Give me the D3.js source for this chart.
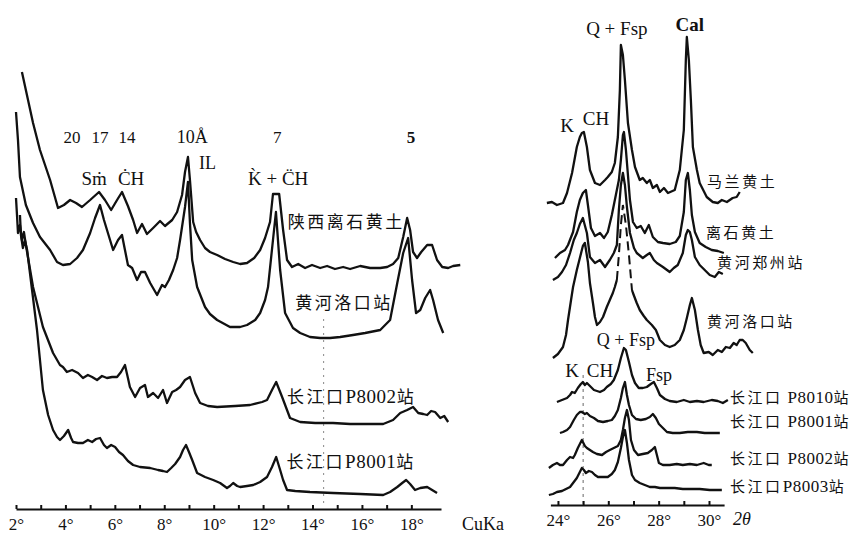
<!DOCTYPE html>
<html>
<head>
<meta charset="utf-8">
<script src="https://cdn.jsdelivr.net/npm/d3@7"></script>
<style>
	body { margin: 0; background: #fff; }
	svg text { fill: #111; }
	.serif { font-family: "Liberation Serif", "DejaVu Serif", serif; }
	.cjk { font-family: "Noto Sans CJK SC", sans-serif; }
</style>
</head>
<body>
<svg id="chart"></svg>
<script>
const DIMENSION = {
	width: 863,
	height: 533
};

// left panel: 2θ (CuKα) vs stacked intensity (arbitrary units, 0 = axis)
const shaanxiLishi = [[2.24,437],[2.69,386],[2.97,359],[3.38,329],[3.70,301],[3.94,304],[4.19,309],[4.43,306],[4.67,302],[5.0,309],[5.36,317],[5.60,309],[5.85,299],[6.09,309],[6.29,317],[6.53,303],[6.74,289],[6.90,276],[7.10,285],[7.30,275],[7.55,281],[7.83,288],[8.03,283],[8.32,289],[8.52,297],[8.72,314],[8.84,337],[8.96,352],[9.04,329],[9.17,287],[9.29,277],[9.45,269],[9.65,261],[9.85,257],[10.14,254],[10.46,250],[10.79,247],[11.07,245],[11.35,246],[11.64,251],[11.88,259],[12.08,271],[12.28,287],[12.40,315],[12.65,315],[12.81,279],[12.97,249],[13.17,242],[13.42,245],[13.70,241],[13.98,244],[14.31,241],[14.59,243],[14.91,240],[15.24,242],[15.52,240],[15.93,243],[16.33,241],[16.74,241],[17.02,242],[17.26,245],[17.47,251],[17.67,272],[17.83,291],[17.95,279],[18.07,257],[18.23,251],[18.40,257],[18.64,264],[18.84,264],[19.04,249],[19.25,242],[19.49,241],[19.69,243],[19.98,244]];

const huangheLuokouL = [[2.0,397],[2.08,369],[2.16,332],[2.40,304],[2.69,286],[2.97,272],[3.38,259],[3.66,247],[3.90,244],[4.19,245],[4.47,251],[4.71,259],[5.0,276],[5.20,291],[5.40,304],[5.56,289],[5.72,276],[5.93,259],[6.13,269],[6.29,274],[6.41,259],[6.53,244],[6.70,241],[6.90,229],[7.06,237],[7.22,237],[7.43,226],[7.71,214],[7.91,224],[8.03,222],[8.19,229],[8.36,239],[8.52,251],[8.64,269],[8.84,302],[8.96,327],[9.04,286],[9.13,249],[9.33,222],[9.65,202],[9.85,195],[10.14,189],[10.66,182],[11.07,182],[11.35,184],[11.68,189],[11.88,196],[12.08,209],[12.20,222],[12.40,269],[12.52,297],[12.69,239],[12.89,196],[13.21,181],[13.50,176],[13.90,172],[14.31,171],[14.71,171],[15.12,172],[15.64,174],[16.13,176],[16.74,179],[17.14,189],[17.43,226],[17.67,256],[17.87,271],[18.03,229],[18.19,196],[18.36,199],[18.56,211],[18.76,219],[18.88,209],[19.08,189],[19.29,176]];

const changjiangP8002L = [[2.0,311],[2.04,294],[2.08,276],[2.16,284],[2.24,269],[2.32,277],[2.40,264],[2.69,222],[3.09,182],[3.50,156],[3.78,144],[3.90,142],[4.06,137],[4.27,139],[4.51,136],[4.71,131],[4.91,134],[5.08,132],[5.28,129],[5.48,133],[5.68,131],[5.89,132],[6.09,132],[6.25,137],[6.41,144],[6.53,131],[6.61,122],[6.82,112],[7.02,121],[7.22,124],[7.34,112],[7.55,116],[7.75,111],[7.95,119],[8.11,106],[8.32,117],[8.48,119],[8.64,122],[8.84,129],[9.04,132],[9.25,116],[9.45,106],[9.77,103],[10.14,102],[10.87,103],[11.47,104],[11.96,107],[12.16,109],[12.36,119],[12.53,127],[12.77,112],[13.09,91],[13.50,87],[14.11,86],[14.83,86],[15.52,85],[16.33,85],[16.86,85],[17.26,89],[17.55,96],[17.83,99],[18.07,102],[18.28,96],[18.48,95],[18.64,94],[18.80,98],[18.96,97],[19.17,91],[19.33,93],[19.49,87]];

const changjiangP8001L = [[2.16,294],[2.20,274],[2.28,261],[2.36,269],[2.45,259],[2.65,219],[2.85,179],[3.09,119],[3.30,94],[3.50,79],[3.66,72],[3.78,69],[3.94,73],[4.11,79],[4.23,71],[4.31,67],[4.51,66],[4.71,66],[4.91,69],[5.08,67],[5.24,70],[5.40,71],[5.56,64],[5.68,61],[5.85,64],[6.01,62],[6.17,57],[6.33,54],[6.53,48],[6.74,44],[7.02,42],[7.43,41],[7.75,39],[7.95,38],[8.11,37],[8.28,41],[8.44,45],[8.64,52],[8.76,59],[8.88,64],[9.00,57],[9.13,49],[9.33,36],[9.65,32],[9.98,29],[10.26,26],[10.54,21],[10.66,23],[10.79,26],[10.95,23],[11.07,22],[11.35,23],[11.60,24],[11.88,27],[12.16,32],[12.36,42],[12.53,52],[12.69,39],[12.81,29],[12.97,19],[13.30,18],[13.90,17],[14.83,16],[15.93,15],[16.86,14],[17.14,17],[17.43,22],[17.63,26],[17.79,29],[17.95,25],[18.15,19],[18.36,21],[18.64,22],[18.84,19],[19.04,16]];

// right panel: 2θ 24°–30°
const malanR = [[23.56,302],[23.76,303],[23.96,300],[24.20,302],[24.36,312],[24.56,332],[24.75,358],[24.87,368],[24.95,372],[25.03,373],[25.15,358],[25.27,335],[25.47,322],[25.67,320],[25.87,325],[25.98,328],[26.14,333],[26.26,342],[26.38,368],[26.46,415],[26.50,460],[26.58,450],[26.66,425],[26.78,382],[26.94,355],[27.06,338],[27.25,325],[27.37,327],[27.53,322],[27.65,325],[27.77,317],[27.93,320],[28.05,313],[28.21,317],[28.37,312],[28.64,315],[28.84,335],[29.00,375],[29.08,445],[29.12,468],[29.20,445],[29.28,405],[29.36,358],[29.52,335],[29.63,322],[29.91,308],[30.15,303],[30.35,302],[30.51,305],[30.71,303],[30.94,307],[31.10,308],[31.22,313]];

const lishiR = [[23.88,247],[24.08,252],[24.28,255],[24.40,260],[24.60,273],[24.75,293],[24.87,305],[24.99,312],[25.11,315],[25.19,300],[25.31,277],[25.47,269],[25.67,272],[25.83,267],[25.98,273],[26.14,290],[26.30,310],[26.42,325],[26.50,345],[26.58,370],[26.62,373],[26.70,355],[26.78,330],[26.86,305],[26.98,283],[27.13,277],[27.29,279],[27.45,272],[27.61,280],[27.77,268],[27.97,263],[28.17,262],[28.44,261],[28.68,263],[28.84,269],[29.00,293],[29.08,325],[29.16,332],[29.24,315],[29.32,290],[29.44,273],[29.63,262],[29.87,258],[30.11,255],[30.35,254],[30.59,252]];

const zhengzhouR = [[23.80,225],[24.0,228],[24.16,233],[24.32,240],[24.48,252],[24.63,265],[24.75,272],[24.87,281],[24.99,287],[25.15,272],[25.27,248],[25.47,242],[25.67,245],[25.87,238],[26.06,245],[26.22,252],[26.34,260],[26.42,295],[26.50,320],[26.58,332],[26.66,320],[26.74,298],[26.86,272],[27.02,257],[27.13,252],[27.37,247],[27.53,250],[27.65,252],[27.81,245],[27.93,242],[28.17,238],[28.44,233],[28.60,237],[28.76,240],[28.96,252],[29.08,270],[29.16,275],[29.24,273],[29.32,265],[29.44,248],[29.63,240],[29.83,235],[30.03,230],[30.23,228],[30.39,233],[30.55,231]];

const luokouR = [[23.80,147],[24.0,151],[24.20,158],[24.32,170],[24.40,185],[24.52,205],[24.60,218],[24.75,235],[24.87,247],[24.99,259],[25.07,262],[25.19,243],[25.27,222],[25.39,202],[25.47,188],[25.55,180],[25.67,183],[25.79,188],[25.94,198],[26.06,205],[26.18,212],[26.26,218],[26.34,225],[26.42,250],[26.50,280],[26.58,300],[26.70,280],[26.82,250],[26.94,215],[26.98,212],[27.13,202],[27.25,195],[27.41,189],[27.53,185],[27.73,180],[27.89,175],[28.05,165],[28.25,160],[28.44,158],[28.64,160],[28.84,165],[29.00,175],[29.12,187],[29.24,200],[29.32,207],[29.44,195],[29.56,175],[29.67,160],[29.79,152],[29.99,153],[30.15,150],[30.35,155],[30.51,153],[30.67,158],[30.83,157],[30.98,162],[31.10,160],[31.22,165],[31.34,165],[31.46,162],[31.62,155],[31.74,152]];
// part of the 黄河洛口站 Q+Fsp peak hidden behind the other traces (drawn dashed)
const luokouHidden = [26.34, 26.96];

const cjP8010R = [[23.96,103],[24.16,105],[24.36,107],[24.48,110],[24.56,113],[24.67,112],[24.79,117],[24.91,121],[24.99,123],[25.07,120],[25.15,122],[25.27,119],[25.43,115],[25.67,113],[25.83,115],[25.94,118],[26.10,121],[26.22,125],[26.38,135],[26.50,147],[26.62,157],[26.70,155],[26.82,143],[26.94,130],[27.06,122],[27.21,117],[27.37,117],[27.53,118],[27.69,121],[27.81,123],[27.93,117],[28.05,110],[28.25,106],[28.44,104],[28.72,103],[29.0,105],[29.24,103],[29.52,104],[29.79,103],[30.11,105],[30.35,104],[30.55,102],[30.75,105]];

const cjP8001R = [[24.08,72],[24.20,73],[24.36,75],[24.48,78],[24.63,85],[24.75,90],[24.87,93],[24.95,93],[25.07,91],[25.15,92],[25.27,89],[25.43,87],[25.59,84],[25.79,83],[25.98,84],[26.14,85],[26.26,89],[26.38,95],[26.50,107],[26.58,117],[26.66,123],[26.74,110],[26.82,100],[26.94,90],[27.10,86],[27.29,85],[27.49,86],[27.65,88],[27.77,91],[27.89,87],[28.01,81],[28.17,77],[28.33,73],[28.56,72],[28.84,72],[29.16,73],[29.52,73],[29.83,72],[30.15,72],[30.43,72]];

const cjP8002R = [[23.64,37],[23.80,40],[23.96,42],[24.08,40],[24.20,40],[24.36,45],[24.48,48],[24.60,47],[24.67,50],[24.79,57],[24.95,65],[25.07,59],[25.15,57],[25.27,55],[25.39,53],[25.55,51],[25.75,50],[25.91,53],[26.06,55],[26.22,57],[26.38,59],[26.50,65],[26.58,75],[26.66,87],[26.74,95],[26.82,85],[26.90,65],[27.02,55],[27.18,50],[27.37,51],[27.57,52],[27.73,55],[27.85,58],[27.93,50],[28.01,42],[28.17,40],[28.44,40],[28.72,41],[28.96,40],[29.24,41],[29.52,40],[29.79,42],[29.99,40],[30.11,40]];

const cjP8003R = [[23.64,10],[23.80,11],[23.96,13],[24.16,14],[24.32,16],[24.48,18],[24.63,23],[24.75,27],[24.87,33],[24.95,37],[25.03,35],[25.11,32],[25.23,34],[25.35,33],[25.47,30],[25.59,28],[25.79,28],[25.98,28],[26.14,31],[26.26,35],[26.38,43],[26.50,57],[26.58,68],[26.66,75],[26.74,62],[26.82,45],[26.94,30],[27.06,25],[27.25,22],[27.45,20],[27.65,18],[27.85,18],[28.05,17],[28.33,17],[28.64,17],[28.96,16],[29.32,16],[29.63,16],[30.03,15],[30.51,15]];

const leftSeries = [shaanxiLishi, huangheLuokouL, changjiangP8002L, changjiangP8001L];
const rightSeries = [malanR, lishiR, zhengzhouR, cjP8010R, cjP8001R, cjP8002R, cjP8003R];

const leftTicks = d3.range(2, 19, 1);
const rightTicks = d3.range(24, 31, 1);

// sample names: [text, 2θ, intensity level of the label]
const leftNames = [['陕西离石黄土', 13.0, 287], ['黄河洛口站', 13.3, 206], ['长江口P8002站', 12.97, 112], ['长江口P8001站', 12.95, 47]];
const rightNames = [['马兰黄土', 29.92, 323], ['离石黄土', 29.88, 272], ['黄河郑州站', 30.32, 242], ['黄河洛口站', 29.92, 183],
	['长江口 P8010站', 30.83, 107], ['长江口 P8001站', 30.83, 83], ['长江口 P8002站', 30.83, 46], ['长江口P8003站', 30.83, 18]];

// peak labels: [text, 2θ, level, bold, size]
const leftPeaks = [['20', 4.27, 372], ['17', 5.40, 372], ['14', 6.49, 372], ['10Å', 9.13, 372, false, 18], ['IL', 9.75, 346, false, 18],
	['7', 12.57, 372], ['5', 17.99, 372, true], ['S\u1E41', 5.16, 331, false, 19], ['\u010AH', 6.66, 331, false, 19], ['K\u0300 + C\u0308H', 12.61, 331, false, 19]];
const rightPeaks = [['Q + Fsp', 26.34, 477, false, 19], ['Cal', 29.24, 481, true, 19], ['K', 24.36, 380, false, 19], ['CH', 25.51, 387, false, 19],
	['Q + Fsp', 26.70, 165, false, 18], ['K', 24.56, 135, false, 19], ['CH', 25.67, 135, false, 19], ['Fsp', 28.01, 130, false, 18]];

const svg = d3.select('#chart')
	.attr('width', DIMENSION.width)
	.attr('height', DIMENSION.height);

const xL = d3.scaleLinear().domain([2, 19.2]).range([16, 441]);
const yL = d3.scaleLinear().domain([0, 500]).range([509, 9]);
const xR = d3.scaleLinear().domain([23.7, 30.6]).range([550.4, 724.1]);
const yR = d3.scaleLinear().domain([0, 500]).range([505, 5]);

// faint dotted guide lines seen in the scan
svg.append('line')
	.attr('x1', xL(14.45)).attr('x2', xL(14.45))
	.attr('y1', yL(190)).attr('y2', yL(2))
	.attr('stroke', '#888').attr('stroke-width', 1).attr('stroke-dasharray', '2,5');
svg.append('line')
	.attr('x1', xR(25.0)).attr('x2', xR(25.0))
	.attr('y1', yR(130)).attr('y2', yR(0))
	.attr('stroke', '#666').attr('stroke-width', 1).attr('stroke-dasharray', '3,4');

const drawTraces = (series, x, y) => {
	const line = d3.line()
		.x(d => x(d[0]))
		.y(d => y(d[1]));
	svg.append('g')
		.selectAll('path')
		.data(series)
		.enter()
		.append('path')
		.attr('fill', 'none')
		.attr('stroke', '#111')
		.attr('stroke-width', 2.3)
		.attr('stroke-linejoin', 'round')
		.attr('d', line);
	return line;
};

drawTraces(leftSeries, xL, yL);
const lineR = drawTraces(rightSeries, xR, yR);

// 黄河洛口站 (right): solid outside the hidden range, dashed inside
const solidA = luokouR.filter(d => d[0] <= luokouHidden[0]);
const hidden = luokouR.filter(d => d[0] >= luokouHidden[0] && d[0] <= luokouHidden[1]);
const solidB = luokouR.filter(d => d[0] >= luokouHidden[1] - 0.05);
for (let part of [solidA, solidB]) {
	svg.append('path')
		.datum(part)
		.attr('fill', 'none')
		.attr('stroke', '#111')
		.attr('stroke-width', 2.3)
		.attr('stroke-linejoin', 'round')
		.attr('d', lineR);
}
svg.append('path')
	.datum(hidden)
	.attr('fill', 'none')
	.attr('stroke', '#111')
	.attr('stroke-width', 2)
	.attr('stroke-dasharray', '9,5')
	.attr('d', lineR);

// axes: small ticks pointing up, labels at even degrees
const makeAxis = (x, ticks, yPos) => {
	const axis = d3.axisBottom(x)
		.tickValues(ticks)
		.tickSizeInner(-4)
		.tickSizeOuter(0)
		.tickPadding(9)
		.tickFormat(d => d % 2 === 0 ? d + '°' : '');
	const g = svg.append('g')
		.attr('transform', `translate(0,${yPos})`)
		.call(axis);
	g.select('.domain').attr('stroke', '#111').attr('stroke-width', 2);
	g.selectAll('.tick line').attr('stroke', '#111').attr('stroke-width', 2);
	g.selectAll('.tick text')
		.attr('class', 'serif')
		.style('font-size', '17px')
		.style('fill', '#111');
	return g;
};

makeAxis(xL, leftTicks, yL(0));
makeAxis(xR, rightTicks, yR(0));

svg.append('text')
	.attr('class', 'serif')
	.attr('x', xL(19.2) + 21)
	.attr('y', yL(0) + 21)
	.style('font-size', '18px')
	.text('CuKa');
svg.append('text')
	.attr('class', 'serif')
	.attr('x', xR(30.6) + 9)
	.attr('y', yR(0) + 20)
	.style('font-size', '18px')
	.style('font-style', 'italic')
	.text('2θ');

const drawNames = (names, x, y, size, spacing) => {
	svg.append('g')
		.selectAll('text')
		.data(names)
		.enter()
		.append('text')
		.attr('x', d => x(d[1]))
		.attr('y', d => y(d[2]))
		.attr('dy', '0.35em')
		.attr('class', 'cjk')
		.style('font-size', size + 'px')
		.style('letter-spacing', spacing + 'px')
		.selectAll('tspan')
		.data(d => d[0].split(/([A-Z0-9 ]+)/).filter(s => s.length))
		.enter()
		.append('tspan')
		.attr('font-family', s => /[A-Z0-9]/.test(s) ? '"Liberation Serif", serif' : null)
		.style('font-size', s => /[A-Z0-9]/.test(s) ? (size + 2) + 'px' : null)
		.style('letter-spacing', s => /[A-Z0-9]/.test(s) ? '0.5px' : null)
		.text(s => s);
};

drawNames(leftNames, xL, yL, 17, 2.5);
drawNames(rightNames, xR, yR, 15, 2.6);

const drawPeaks = (peaks, x, y) => {
	svg.append('g')
		.selectAll('text')
		.data(peaks)
		.enter()
		.append('text')
		.attr('class', 'serif')
		.attr('x', d => x(d[1]))
		.attr('y', d => y(d[2]))
		.attr('dy', '0.35em')
		.attr('text-anchor', 'middle')
		.style('font-size', d => (d[4] || 17) + 'px')
		.style('font-weight', d => d[3] ? 'bold' : 'normal')
		.text(d => d[0]);
};

drawPeaks(leftPeaks, xL, yL);
drawPeaks(rightPeaks, xR, yR);
</script>
</body>
</html>
